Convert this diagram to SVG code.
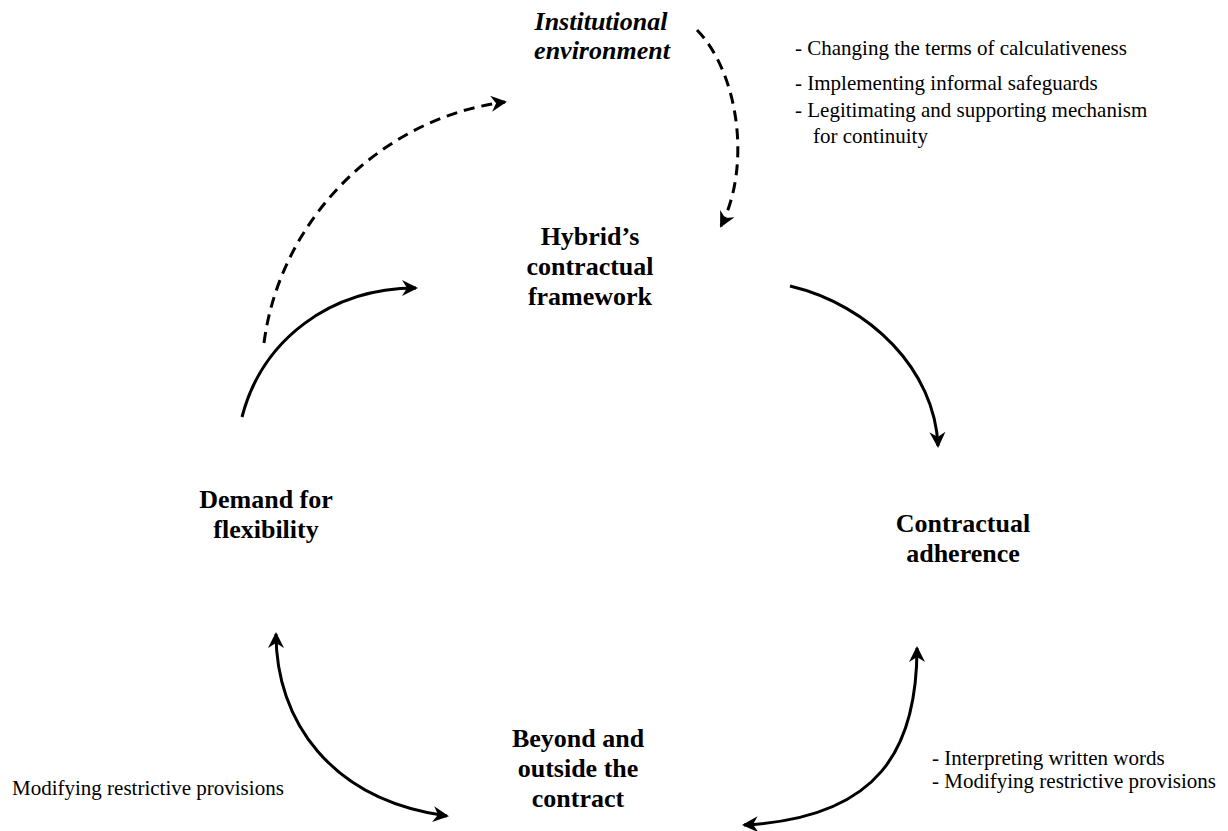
<svg xmlns="http://www.w3.org/2000/svg" width="1228" height="831" viewBox="0 0 1228 831">
<style>
.node{font-family:"Liberation Serif","Times New Roman",serif;font-size:26px;font-weight:bold;fill:#000;text-anchor:middle}
.ital{font-style:italic}
.note{font-family:"Liberation Serif","Times New Roman",serif;font-size:21px;fill:#000}
.c{fill:none;stroke:#000;stroke-width:3}
.d{stroke-dasharray:11 7}
</style>
<defs>
<marker id="ah" viewBox="-16 -9 20 18" refX="0" refY="0" markerWidth="20" markerHeight="18" markerUnits="userSpaceOnUse" orient="auto-start-reverse">
<path d="M2,0 L-14,-8 L-9,0 L-14,8 Z" fill="#000"/>
</marker>
</defs>
<rect width="1228" height="831" fill="#fff"/>
<g id="connectors">
<path class="c" d="M242,417 C262,340 330,288 416,288" marker-end="url(#ah)"/>
<path class="c d" d="M264,343 C280,220 380,118 505,102" marker-end="url(#ah)"/>
<path class="c d" d="M697,30 C738,72 752,165 721,226" marker-end="url(#ah)"/>
<path class="c" d="M790,286 C870,305 935,370 938,446" marker-end="url(#ah)"/>
<path class="c" d="M276,634 C276,720 330,800 447,816" marker-start="url(#ah)" marker-end="url(#ah)"/>
<path class="c" d="M917,648 C917,748 880,818 744,825" marker-start="url(#ah)" marker-end="url(#ah)"/>
</g>
<g id="institutional-environment">
<text class="node ital" x="601" y="30">Institutional</text>
<text class="node ital" x="602" y="59">environment</text>
</g>
<g id="institutional-notes">
<text class="note" x="795" y="55">- Changing the terms of calculativeness</text>
<text class="note" x="795" y="90">- Implementing informal safeguards</text>
<text class="note" x="795" y="117">- Legitimating and supporting mechanism</text>
<text class="note" x="813" y="143">for continuity</text>
</g>
<g id="hybrid-framework">
<text class="node" x="590" y="245">Hybrid’s</text>
<text class="node" x="590" y="275">contractual</text>
<text class="node" x="590" y="305">framework</text>
</g>
<g id="demand-flexibility">
<text class="node" x="266" y="508">Demand for</text>
<text class="node" x="266" y="538">flexibility</text>
</g>
<g id="contractual-adherence">
<text class="node" x="963" y="532">Contractual</text>
<text class="node" x="963" y="562">adherence</text>
</g>
<g id="beyond-contract">
<text class="node" x="578" y="747">Beyond and</text>
<text class="node" x="578" y="777">outside the</text>
<text class="node" x="578" y="807">contract</text>
</g>
<g id="left-note">
<text class="note" x="12" y="795">Modifying restrictive provisions</text>
</g>
<g id="right-notes">
<text class="note" x="932" y="765">- Interpreting written words</text>
<text class="note" x="932" y="788">- Modifying restrictive provisions</text>
</g>
</svg>
